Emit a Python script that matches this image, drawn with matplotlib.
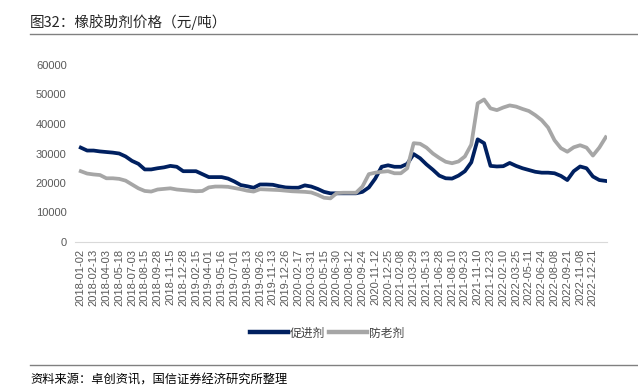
import numpy as np
import matplotlib
matplotlib.use("Agg")
import matplotlib.pyplot as plt
from matplotlib.lines import Line2D

plt.rcParams['font.family'] = ['Noto Sans CJK SC', 'DejaVu Sans']

# tick labels on the category axis
tick_labels = [
    "2018-01-02", "2018-02-13", "2018-04-03", "2018-05-18", "2018-07-03", "2018-08-15",
    "2018-09-28", "2018-11-15", "2018-12-28",
    "2019-02-15", "2019-04-01", "2019-05-16", "2019-07-01", "2019-08-13", "2019-09-26",
    "2019-11-13", "2019-12-26",
    "2020-02-17", "2020-03-31", "2020-05-15", "2020-06-30", "2020-08-12", "2020-09-24",
    "2020-11-12", "2020-12-25",
    "2021-02-08", "2021-03-29", "2021-05-13", "2021-06-28", "2021-08-10", "2021-09-23",
    "2021-11-10", "2021-12-23",
    "2022-02-10", "2022-03-25", "2022-05-11", "2022-06-24", "2022-08-08", "2022-09-21",
    "2022-11-08", "2022-12-21",
]

# prices read every half tick (元/吨)
cujinji = [
    32000, 31000, 31000, 30700, 30500, 30300, 30000, 29000, 27500, 26500,
    24600, 24600, 25000, 25300, 25800, 25500, 24000, 24000, 24000, 23000,
    22000, 22000, 22000, 21500, 20500, 19300, 18900, 18400, 19500, 19500,
    19400, 18900, 18500, 18400, 18400, 19200, 18800, 18000, 17000, 16500,
    16500, 16500, 16500, 16500, 17000, 18500, 21500, 25500, 26000, 25500,
    25500, 26500, 29800, 28400, 26300, 24500, 22500, 21600, 21500, 22500,
    24000, 27000, 34800, 33500, 25800, 25600, 25700, 26800, 25800, 25000,
    24400, 23800, 23500, 23500, 23300, 22400, 21000, 24000, 25600, 25000,
    22200, 21000, 20700,
]
fanglaoji = [
    24000, 23200, 22900, 22700, 21600, 21600, 21400, 20800, 19500, 18200,
    17300, 17100, 17800, 18000, 18200, 17800, 17600, 17400, 17200, 17300,
    18500, 18800, 18800, 18700, 18300, 17900, 17400, 17100, 17900, 17800,
    17700, 17600, 17400, 17200, 17100, 17000, 16800, 16000, 15000, 14800,
    16600, 16700, 16700, 16700, 18800, 23000, 23500, 23800, 24000, 23300,
    23300, 25000, 33500, 33300, 32000, 30000, 28500, 27200, 26700, 27300,
    29000, 33000, 47000, 48300, 45300, 44700, 45600, 46300, 45900, 45100,
    44400, 43000, 41300, 38800, 34500, 31800, 30600, 32100, 32800, 32000,
    29300, 32000, 35500,
]

x = np.arange(len(cujinji)) * 0.5

W, H = 638, 392
fig = plt.figure(figsize=(W / 100, H / 100), dpi=100)
ax = fig.add_axes([75 / W, 1 - 242 / H, (607 - 75) / W, (242 - 65) / H])

blue = "#002060"
grey = "#a6a6a6"
ax.plot(x, cujinji, color=blue, lw=2.7, solid_joinstyle="round")
ax.plot(x, fanglaoji, color=grey, lw=2.7, solid_joinstyle="round")

ax.set_xlim(-0.45, 41.1)
ax.set_ylim(0, 60000)
ax.set_yticks(range(0, 60001, 10000))
ax.set_xticks(range(len(tick_labels)))
ax.set_xticklabels(tick_labels, rotation=90, family="Liberation Sans", fontsize=8, color="#595959")
for t in ax.get_yticklabels():
    t.set_family("Liberation Sans")
ax.tick_params(axis="y", length=0, labelsize=8, labelcolor="#595959", pad=6)
ax.tick_params(axis="x", length=0, pad=5)
for s in ["top", "right", "left"]:
    ax.spines[s].set_visible(False)
ax.spines["bottom"].set_color("#d9d9d9")

handles = [Line2D([], [], color=blue, lw=3.2), Line2D([], [], color=grey, lw=3.2)]
fig.legend(handles, ["促进剂", "防老剂"], loc="center", bbox_to_anchor=(327 / W, 1 - 333 / H),
           ncol=2, frameon=False, fontsize=8.5, handlelength=3.2, handletextpad=0.2,
           columnspacing=0.3, labelcolor="#404040")

# title and footer
fig.text(30 / W, 1 - 22 / H, "图32：橡胶助剂价格（元/吨）", fontsize=10.5, va="center", ha="left", color="#262626")
fig.add_artist(Line2D([30 / W, 1], [1 - 34 / H, 1 - 34 / H], color="#808080", lw=1))
fig.add_artist(Line2D([30 / W, 1], [1 - 365 / H, 1 - 365 / H], color="#808080", lw=1))
fig.text(30 / W, 1 - 380 / H, "资料来源：卓创资讯，国信证券经济研究所整理", fontsize=8.8, va="center", ha="left", color="#000000")

fig.savefig("out.png", dpi=100)
